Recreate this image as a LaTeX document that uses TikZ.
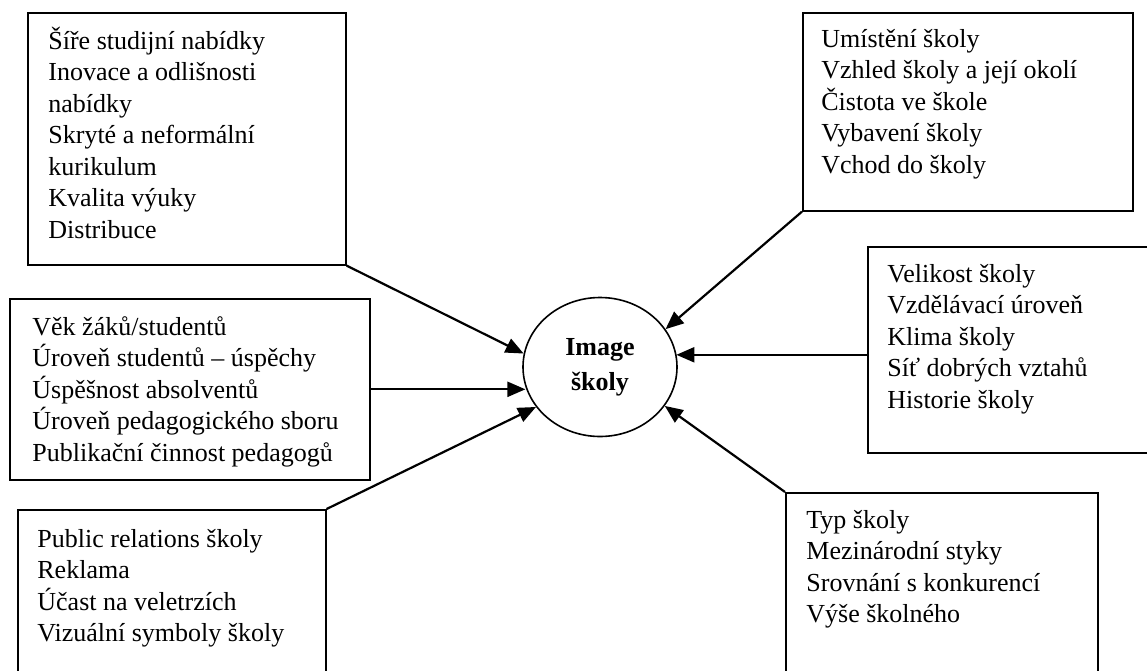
\documentclass[tikz,border=0pt]{standalone}
\usepackage{fontspec}
\setmainfont{Liberation Serif}
\usetikzlibrary{arrows.meta,shapes.geometric}

\newcommand{\firstline}{\rule{0pt}{12pt}}

\begin{document}
\begin{tikzpicture}[x=0.5pt, y=-0.5pt,
  frame/.style={draw, line width=0.8pt, inner sep=0pt, anchor=north west},
  items/.style={align=left, inner sep=0pt, anchor=north west, font=\fontsize{13}{15.75}\selectfont},
  link/.style={line width=1.1pt, -{Triangle[length=9pt,width=7.5pt]}}]

  \useasboundingbox (0,0) rectangle (1147,670);

  % image of the school
  \node[draw, ellipse, line width=0.8pt, minimum width=77pt, minimum height=69.5pt, inner sep=0pt,
        align=center, font=\fontsize{13}{17.5}\selectfont\bfseries] (img) at (600,367) {Image\\školy};

  % offer
  \node[frame, minimum width=159pt, minimum height=126pt] (b1) at (27,12) {};
  \node[items] (t1) at (48,25) {\firstline Šíře studijní nabídky\\Inovace a odlišnosti\\nabídky\\Skryté a neformální\\kurikulum\\Kvalita výuky\\Distribuce};

  % students and teachers
  \node[frame, minimum width=180pt, minimum height=90.5pt] (b2) at (9,298) {};
  \node[items] (t2) at (32,311) {\firstline Věk žáků/studentů\\Úroveň studentů – úspěchy\\Úspěšnost absolventů\\Úroveň pedagogického sboru\\Publikační činnost pedagogů};

  % communication
  \node[frame, minimum width=154pt, minimum height=96pt] (b3) at (17,509) {};
  \node[items] (t3) at (37,523) {\firstline Public relations školy\\Reklama\\Účast na veletrzích\\Vizuální symboly školy};

  % building
  \node[frame, minimum width=165pt, minimum height=99pt] (b4) at (802,12) {};
  \node[items] (t4) at (821,23) {\firstline Umístění školy\\Vzhled školy a její okolí\\Čistota ve škole\\Vybavení školy\\Vchod do školy};

  % climate
  \node[frame, minimum width=147pt, minimum height=103pt] (b5) at (867,246) {};
  \node[items] (t5) at (887,258) {\firstline Velikost školy\\Vzdělávací úroveň\\Klima školy\\Síť dobrých vztahů\\Historie školy};

  % market
  \node[frame, minimum width=156pt, minimum height=105pt] (b6) at (785,492) {};
  \node[items] (t6) at (806,504) {\firstline Typ školy\\Mezinárodní styky\\Srovnání s konkurencí\\Výše školného};

  % arrows into the image
  \coordinate (b5in) at ([yshift=-2.5pt]b5.west);
  \draw[link] (b1.south east) -- (img.170);
  \draw[link] (b2.east) -- (img.195 |- b2.east);
  \draw[link] (b3.north east) -- (img.212);
  \draw[link] (b4.south west) -- (img.30);
  \draw[link] (b5in) -- (img.10 |- b5in);
  \draw[link] (b6.north west) -- (img.329);

\end{tikzpicture}
\end{document}
